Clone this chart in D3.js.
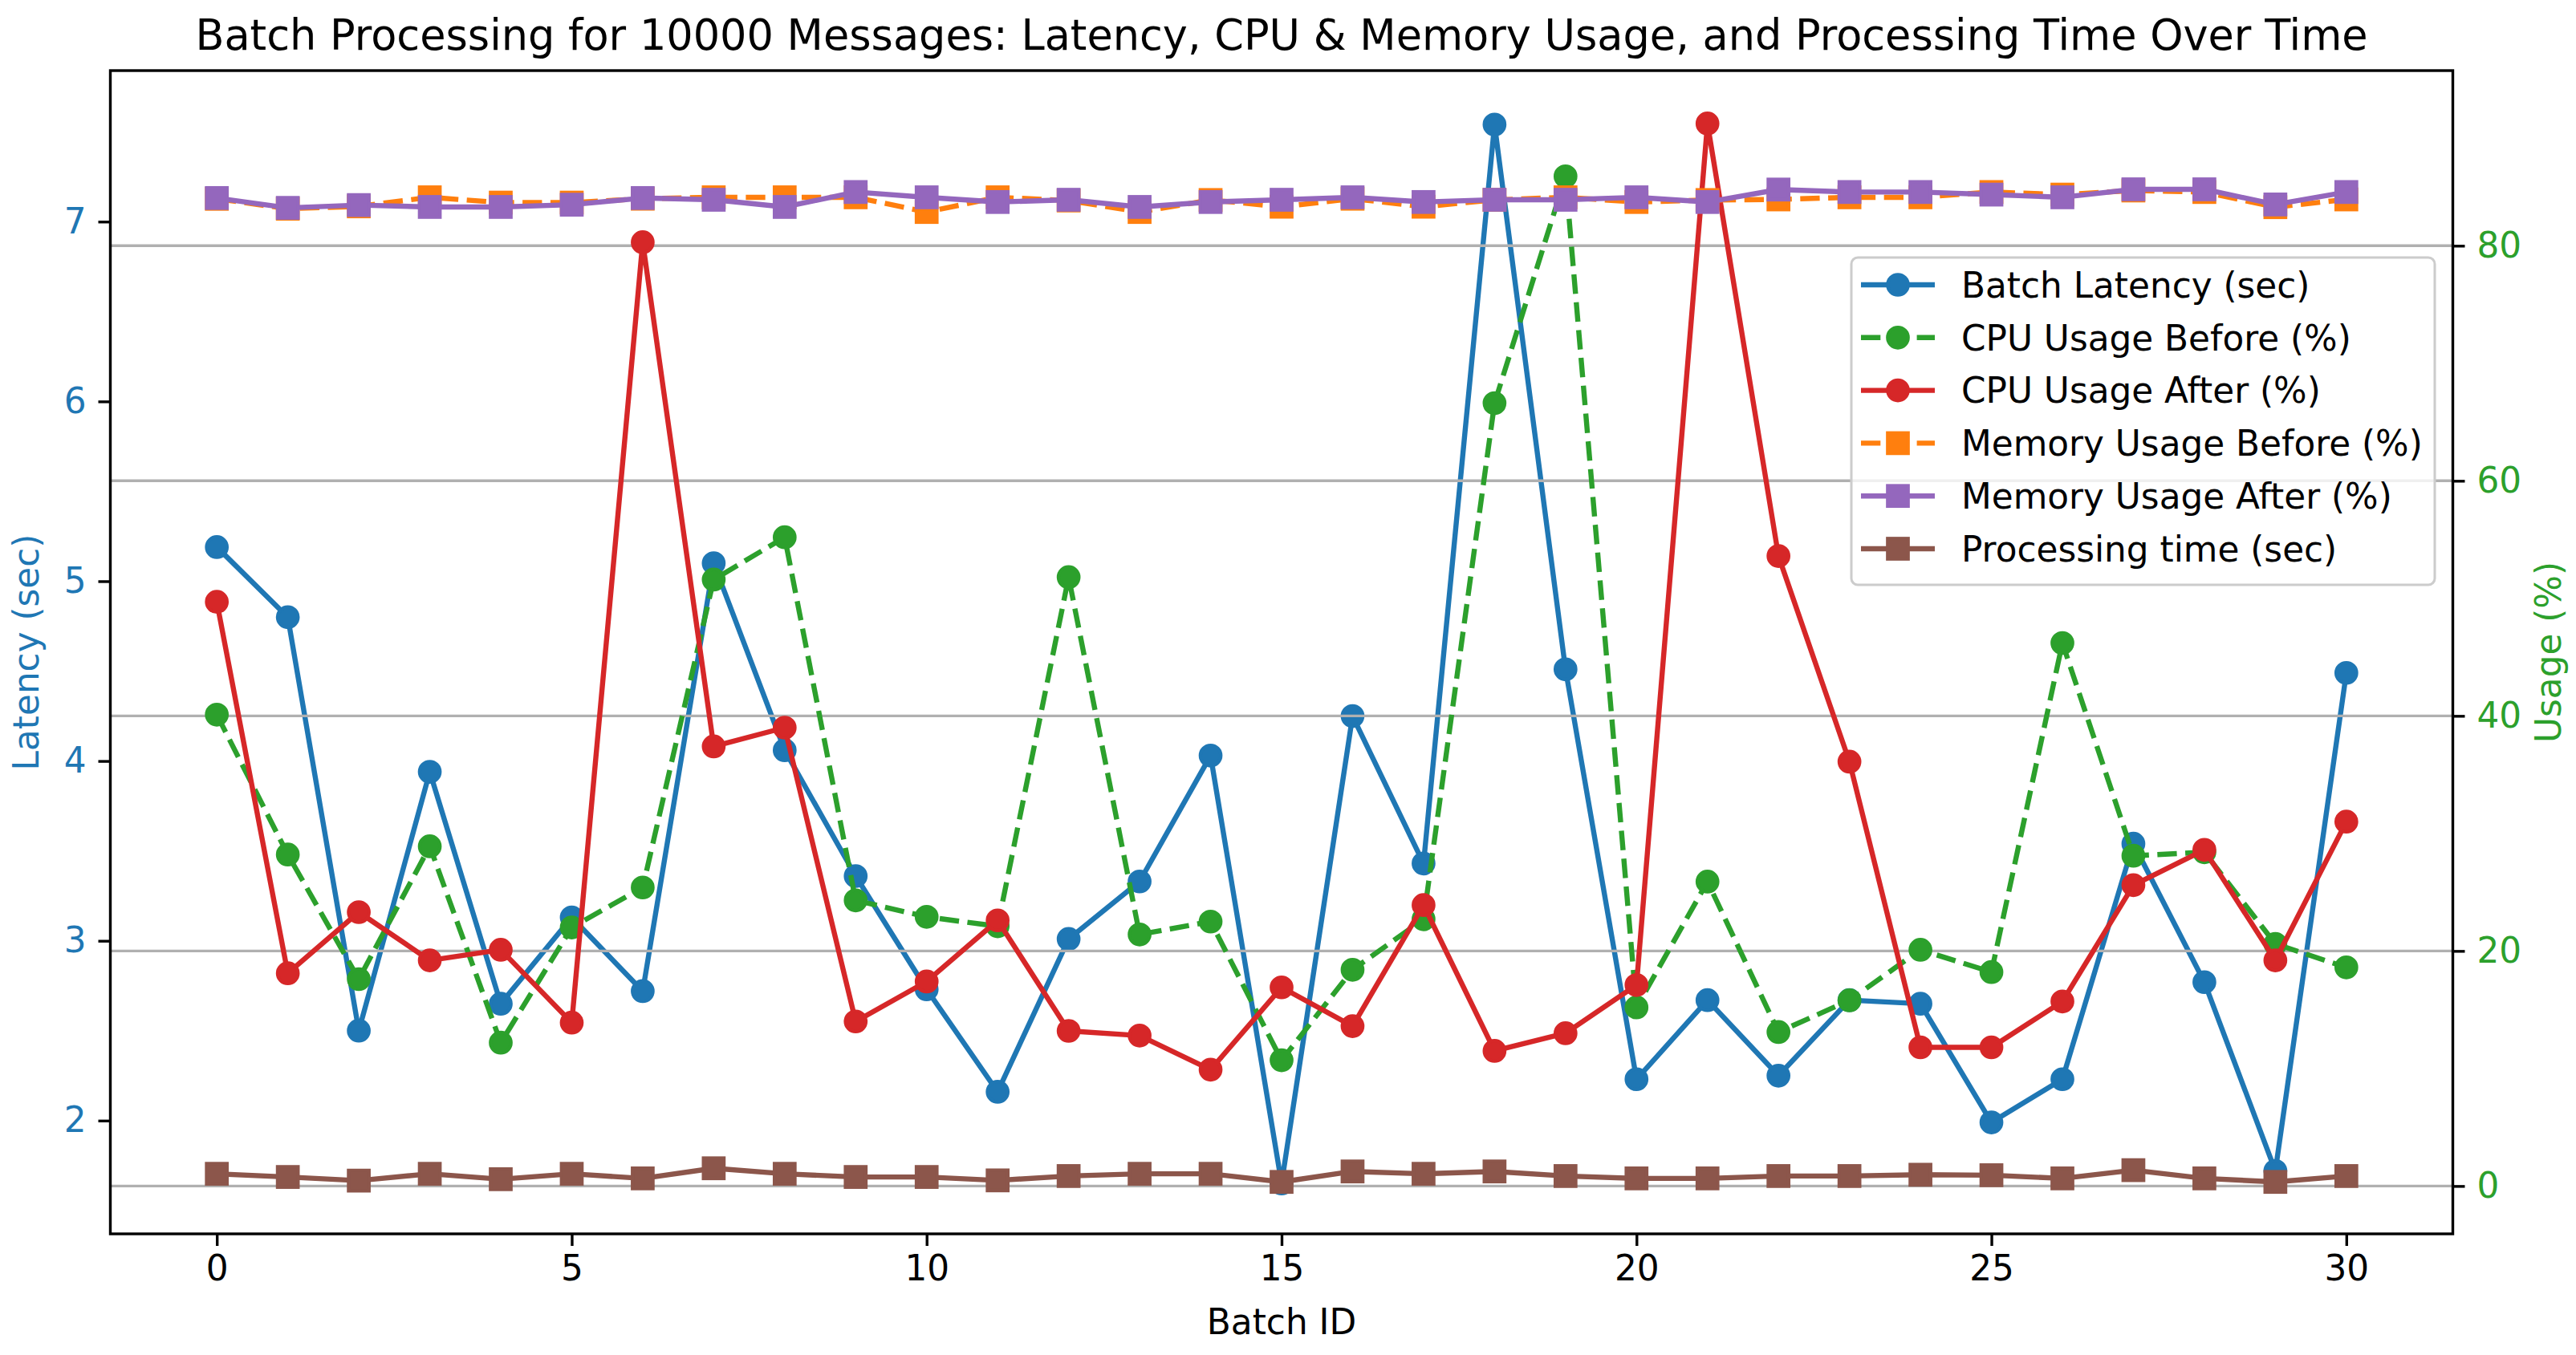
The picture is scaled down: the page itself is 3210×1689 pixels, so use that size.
<!DOCTYPE html>
<html>
<head>
<meta charset="utf-8">
<script src="https://cdn.jsdelivr.net/npm/d3@7/dist/d3.min.js"></script>
<style>
  html, body { margin: 0; padding: 0; background: #ffffff; }
  svg { display: block; }
  text { font-family: "DejaVu Sans", sans-serif; }
</style>
</head>
<body>
<svg id="chart" width="3210" height="1689"></svg>
<script>
// ---------------- data ----------------
const batchIds = [0,1,2,3,4,5,6,7,8,9,10,11,12,13,14,15,16,17,18,19,20,21,22,23,24,25,26,27,28,29,30];
const batchLatency = [5.19,4.80,2.50,3.94,2.65,3.13,2.72,5.10,4.06,3.36,2.73,2.16,3.01,3.33,4.03,1.65,4.25,3.43,7.54,4.51,2.23,2.67,2.25,2.67,2.65,1.99,2.23,3.54,2.77,1.72,4.49];
const cpuBefore = [40.1,28.2,17.6,28.9,12.2,22.0,25.4,51.6,55.2,24.3,22.9,22.1,51.8,21.4,22.5,10.7,18.4,22.7,66.6,85.9,15.2,25.9,13.1,15.8,20.1,18.2,46.2,28.1,28.4,20.6,18.6];
const cpuAfter = [49.7,18.1,23.3,19.2,20.1,13.9,80.3,37.4,39.0,14.0,17.4,22.6,13.2,12.8,9.9,16.9,13.6,23.9,11.5,13.0,17.1,90.4,53.6,36.1,11.8,11.8,15.7,25.6,28.6,19.2,31.0];
const memBefore = [83.99,83.15,83.35,84.12,83.67,83.67,84.00,84.12,84.12,84.12,82.87,84.12,83.85,82.87,83.89,83.32,84.00,83.32,83.90,84.12,83.72,83.89,83.94,84.12,84.12,84.57,84.35,84.70,84.57,83.28,83.94];
const memAfter = [84.06,83.22,83.46,83.30,83.30,83.49,84.06,83.91,83.30,84.57,84.12,83.72,83.91,83.30,83.72,83.91,84.12,83.72,83.91,83.91,84.12,83.72,84.78,84.57,84.57,84.35,84.12,84.80,84.80,83.51,84.57];
const processingTime = [1.04,0.77,0.46,1.04,0.58,1.04,0.65,1.51,1.04,0.77,0.77,0.48,0.85,1.04,1.04,0.35,1.24,1.04,1.24,0.85,0.65,0.65,0.85,0.85,0.96,0.92,0.65,1.35,0.65,0.35,0.85];

const xTicks = [0,5,10,15,20,25,30];
const latencyTicks = [2,3,4,5,6,7];
const usageTicks = [0,20,40,60,80];

const titleText = "Batch Processing for 10000 Messages: Latency, CPU & Memory Usage, and Processing Time Over Time";
const xLabel = "Batch ID";
const yLeftLabel = "Latency (sec)";
const yRightLabel = "Usage (%)";

// series definitions (axis: L = latency, R = usage)
const seriesDefs = [
  { name: "Batch Latency (sec)",     values: batchLatency,   axis: "L", color: "#1f77b4", marker: "o", dash: null },
  { name: "CPU Usage Before (%)",    values: cpuBefore,      axis: "R", color: "#2ca02c", marker: "o", dash: "24.3,10.5" },
  { name: "CPU Usage After (%)",     values: cpuAfter,       axis: "R", color: "#d62728", marker: "o", dash: null },
  { name: "Memory Usage Before (%)", values: memBefore,      axis: "R", color: "#ff7f0e", marker: "s", dash: "24.3,10.5" },
  { name: "Memory Usage After (%)",  values: memAfter,       axis: "R", color: "#9467bd", marker: "s", dash: null },
  { name: "Processing time (sec)",   values: processingTime, axis: "R", color: "#8c564b", marker: "s", dash: null }
];

// ---------------- layout ----------------
const plot = { left: 137.5, right: 3056.5, top: 88, bottom: 1538 };
const FS = 43.75;      // base font size
const LW = 6.4;        // line width
const MS = 25.5;       // marker size
const MEW = 4.2;       // marker edge width
const TICK = 15;

const svg = d3.select("#chart");

const x = d3.scaleLinear().domain([-1.5, 31.5]).range([plot.left, plot.right]);
const yL = d3.scaleLinear().domain([1.37, 7.84]).range([plot.bottom, plot.top]);
const yR = d3.scaleLinear().domain([-4.07, 94.9]).range([plot.bottom, plot.top]);

svg.append("defs").append("clipPath").attr("id", "plotclip")
  .append("rect").attr("x", plot.left).attr("y", plot.top)
  .attr("width", plot.right - plot.left).attr("height", plot.bottom - plot.top);

function drawSeries(g, s) {
  const ys = s.axis === "L" ? yL : yR;
  const line = d3.line().x((d, i) => x(batchIds[i])).y(d => ys(d));
  g.append("path")
    .datum(s.values)
    .attr("d", line)
    .attr("fill", "none")
    .attr("stroke", s.color)
    .attr("stroke-width", LW)
    .attr("stroke-linejoin", "round")
    .attr("stroke-linecap", s.dash ? "butt" : "square")
    .attr("stroke-dasharray", s.dash);
  const pts = s.values.map((v, i) => ({ cx: x(batchIds[i]), cy: ys(v) }));
  if (s.marker === "o") {
    g.selectAll(null).data(pts).enter().append("circle")
      .attr("cx", d => d.cx).attr("cy", d => d.cy).attr("r", MS / 2)
      .attr("fill", s.color).attr("stroke", s.color).attr("stroke-width", MEW);
  } else {
    g.selectAll(null).data(pts).enter().append("rect")
      .attr("x", d => d.cx - MS / 2).attr("y", d => d.cy - MS / 2)
      .attr("width", MS).attr("height", MS)
      .attr("fill", s.color).attr("stroke", s.color).attr("stroke-width", MEW)
      .attr("stroke-linejoin", "miter");
  }
}

// first axes (latency)
const g1 = svg.append("g").attr("clip-path", "url(#plotclip)");
drawSeries(g1, seriesDefs[0]);

// grid from the second axes (usage)
const grid = svg.append("g");
grid.selectAll("line").data(usageTicks).enter().append("line")
  .attr("x1", plot.left).attr("x2", plot.right)
  .attr("y1", d => yR(d)).attr("y2", d => yR(d))
  .attr("stroke", "#b0b0b0").attr("stroke-width", 3.4);

const g2 = svg.append("g").attr("clip-path", "url(#plotclip)");
seriesDefs.slice(1).forEach(s => drawSeries(g2, s));

// spines
svg.append("rect")
  .attr("x", plot.left).attr("y", plot.top)
  .attr("width", plot.right - plot.left).attr("height", plot.bottom - plot.top)
  .attr("fill", "none").attr("stroke", "#000").attr("stroke-width", 3.4);

// axes
function styleAxis(g, color) {
  g.select(".domain").remove();
  g.selectAll(".tick line").attr("stroke", "#000").attr("stroke-width", 3.4);
  g.selectAll(".tick text").attr("fill", color)
    .style("font-size", FS + "px").style("font-family", "'DejaVu Sans', sans-serif");
}

const xAxis = svg.append("g").attr("transform", `translate(0,${plot.bottom})`)
  .call(d3.axisBottom(x).tickValues(xTicks).tickFormat(d3.format("d")).tickSize(TICK).tickPadding(TICK - 3));
styleAxis(xAxis, "#000");

const yAxisL = svg.append("g").attr("transform", `translate(${plot.left},0)`)
  .call(d3.axisLeft(yL).tickValues(latencyTicks).tickFormat(d3.format("d")).tickSize(TICK).tickPadding(TICK));
styleAxis(yAxisL, "#1f77b4");

const yAxisR = svg.append("g").attr("transform", `translate(${plot.right},0)`)
  .call(d3.axisRight(yR).tickValues(usageTicks).tickFormat(d3.format("d")).tickSize(TICK).tickPadding(TICK));
styleAxis(yAxisR, "#2ca02c");

// title & labels
svg.append("text").attr("x", (plot.left + plot.right) / 2).attr("y", 62)
  .attr("text-anchor", "middle").style("font-size", "52.5px").attr("fill", "#000")
  .text(titleText);

svg.append("text").attr("x", (plot.left + plot.right) / 2).attr("y", 1663)
  .attr("text-anchor", "middle").style("font-size", FS + "px").attr("fill", "#000")
  .text(xLabel);

svg.append("text")
  .attr("transform", `translate(48,${(plot.top + plot.bottom) / 2}) rotate(-90)`)
  .attr("text-anchor", "middle").style("font-size", FS + "px").attr("fill", "#1f77b4")
  .text(yLeftLabel);

svg.append("text")
  .attr("transform", `translate(3191,${(plot.top + plot.bottom) / 2}) rotate(-90)`)
  .attr("text-anchor", "middle").style("font-size", FS + "px").attr("fill", "#2ca02c")
  .text(yRightLabel);

// legend
const leg = { x: 2307, y: 321, w: 727, h: 408 };
const lg = svg.append("g");
lg.append("rect").attr("x", leg.x).attr("y", leg.y).attr("width", leg.w).attr("height", leg.h)
  .attr("rx", 8).attr("ry", 8)
  .attr("fill", "#ffffff").attr("fill-opacity", 0.8)
  .attr("stroke", "#cccccc").attr("stroke-width", 3);

const rowY = d3.scaleLinear().domain([0, seriesDefs.length - 1]).range([355, 684]);
seriesDefs.forEach((s, i) => {
  const cy = rowY(i);
  const hx1 = 2319, hx2 = 2411, mx = (hx1 + hx2) / 2;
  lg.append("line").attr("x1", hx1).attr("x2", hx2).attr("y1", cy).attr("y2", cy)
    .attr("stroke", s.color).attr("stroke-width", LW)
    .attr("stroke-dasharray", s.dash);
  if (s.marker === "o") {
    lg.append("circle").attr("cx", mx).attr("cy", cy).attr("r", MS / 2)
      .attr("fill", s.color).attr("stroke", s.color).attr("stroke-width", MEW);
  } else {
    lg.append("rect").attr("x", mx - MS / 2).attr("y", cy - MS / 2).attr("width", MS).attr("height", MS)
      .attr("fill", s.color).attr("stroke", s.color).attr("stroke-width", MEW);
  }
  lg.append("text").attr("x", 2444).attr("y", cy).attr("dy", "0.36em")
    .style("font-size", FS + "px").attr("fill", "#000").text(s.name);
});
</script>
</body>
</html>
